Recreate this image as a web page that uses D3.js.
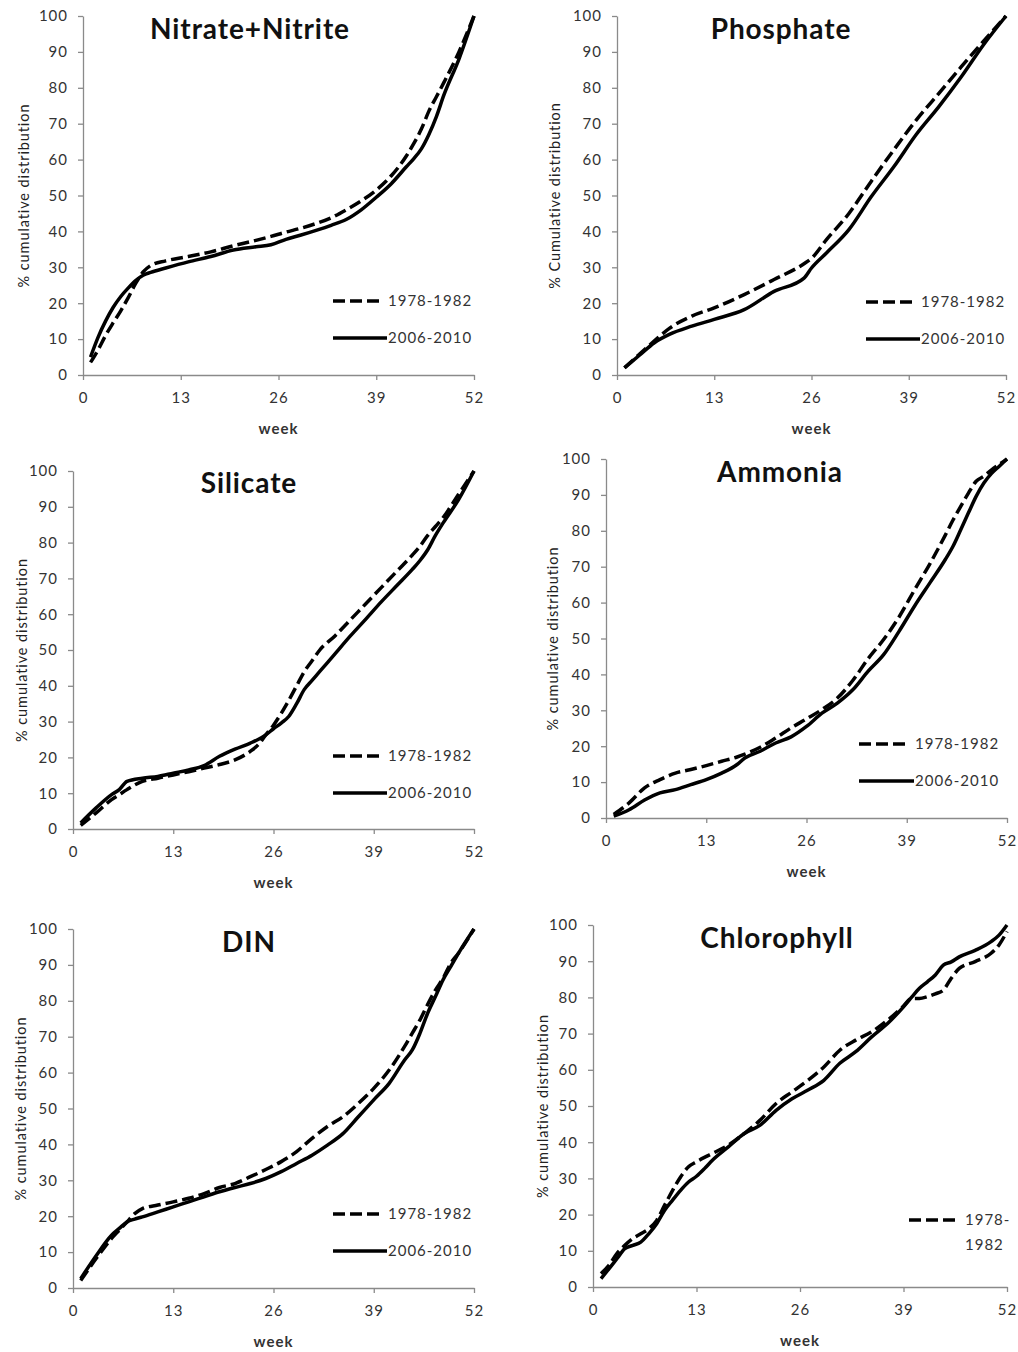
<!DOCTYPE html>
<html>
<head>
<meta charset="utf-8">
<title>cumulative distribution</title>
<script src="https://cdn.jsdelivr.net/npm/d3@7"></script>
<style>
body { margin: 0; background: #fff; }
svg { display: block; }
.axis path, .axis line { stroke: #8a8a8a; stroke-width: 1.3; }
.axis text { font-family: Lato, "Open Sans", sans-serif; font-size: 15px; fill: #333; letter-spacing: 1px; }
.title { font-family: Lato, "Open Sans", sans-serif; font-weight: bold; font-size: 28px; fill: #111; letter-spacing: 0.9px; }
.ylab { font-family: Lato, "Open Sans", sans-serif; font-size: 14.5px; fill: #222; letter-spacing: 0.9px; }
.xlab { font-family: Lato, "Open Sans", sans-serif; font-weight: bold; font-size: 15px; fill: #333; letter-spacing: 1px; }
.leg { font-family: Lato, "Open Sans", sans-serif; font-size: 15px; fill: #333; letter-spacing: 1px; }
.line { fill: none; stroke: #000; stroke-width: 3.5; stroke-linejoin: round; }
.dash { stroke-dasharray: 12, 5; }
</style>
</head>
<body>
<svg width="1018" height="1352"></svg>
<script>

// x ticks / y ticks
var weekTicks = [0, 13, 26, 39, 52];
var pctTicks = [0, 10, 20, 30, 40, 50, 60, 70, 80, 90, 100];
var seriesNames = ["1978-1982", "2006-2010"];

// Nitrate+Nitrite
var nitWeeks = [1, 2, 3, 4, 5, 6, 7, 8, 9, 11, 14, 17, 20, 23, 25, 27, 29, 31, 33, 35, 37, 39, 41, 43, 44, 45, 46, 47, 48, 50, 52];
var nitOld = [3.5, 7, 11, 14.5, 17.8, 21.5, 25.5, 28.7, 30.5, 31.8, 33, 34.3, 36, 37.5, 38.6, 39.8, 40.9, 42.2, 43.8, 46, 48.5, 51.5, 55.5, 61, 64.5, 68.5, 73.5, 77.5, 81.5, 90, 100];
var nitNew = [5, 10.5, 15, 18.8, 21.8, 24.2, 26.3, 27.8, 28.6, 29.8, 31.5, 33, 34.8, 35.7, 36.3, 37.8, 39, 40.3, 41.7, 43.3, 46, 49.5, 53.3, 58, 60.3, 63, 67, 72, 78, 88, 100];

// Phosphate
var phoWeeks = [1, 3, 5, 7, 10, 13, 17, 21, 25, 26, 28, 31, 34, 37, 40, 43, 46, 49, 52];
var phoOld = [2, 5.8, 9.5, 13, 16.4, 18.7, 22.4, 26.6, 31, 32.5, 37.7, 45, 54, 62.7, 71, 78.4, 85.8, 93, 100];
var phoNew = [2, 5.5, 9, 11.3, 13.6, 15.5, 18.2, 23.3, 27, 29.8, 34, 40.5, 49.7, 58, 67, 74.7, 83, 92, 100];

// Silicate
var silWeeks = [1, 3, 5, 6, 7, 9, 11, 13, 15, 17, 19, 21, 23, 24, 25, 26, 27, 28, 29, 30, 31, 32, 34, 36, 38, 40, 42, 44, 45, 46, 47, 48, 50, 52];
var silOld = [1, 4.5, 8.2, 9.6, 11, 13.3, 14.2, 15.1, 16, 17, 18, 19.3, 21.7, 23.5, 26.3, 29, 32.3, 36, 40, 44, 47, 50, 54, 58.5, 63, 67.5, 72, 76.5, 79, 82, 84.5, 87, 93.5, 100];
var silNew = [1.7, 5.9, 9.6, 11, 13.3, 14.2, 14.7, 15.6, 16.5, 17.7, 20.3, 22.3, 24, 25, 26.3, 28, 29.6, 31.5, 35, 39, 41.5, 44, 49, 54, 58.7, 63.5, 68, 72.5, 75, 78, 82, 85.5, 92, 100];

// Ammonia
var ammWeeks = [1, 3, 5, 7, 9, 11, 13, 15, 17, 18, 20, 22, 24, 26, 28, 30, 32, 34, 36, 38, 40, 42, 44, 45, 46, 47, 48, 49, 50, 51, 52];
var ammOld = [1, 4.2, 8.4, 10.7, 12.5, 13.5, 14.6, 15.8, 17, 17.8, 19.7, 22.3, 25.1, 27.6, 30.2, 33.4, 38.3, 44.4, 49.7, 56, 63.5, 70.8, 78.8, 83, 86.8, 90.5, 93.8, 95.2, 97, 98.5, 100];
var ammNew = [0.5, 2.3, 5, 7, 7.9, 9.3, 10.7, 12.5, 14.9, 16.7, 18.6, 20.9, 22.6, 25.5, 29.2, 32, 35.7, 40.9, 45.5, 52, 59, 65.5, 72, 75.7, 80.3, 85, 89.6, 93.3, 96, 98, 100];

// DIN
var dinWeeks = [1, 3, 5, 6, 7, 8, 9, 11, 13, 15, 17, 19, 21, 23, 25, 27, 29, 31, 33, 35, 37, 39, 41, 43, 44, 45, 46, 47, 48, 49, 50, 52];
var dinOld = [2.1, 8.2, 13.8, 16.1, 18.4, 20.7, 22.1, 23.1, 24, 25, 26.3, 28, 29.1, 31, 33, 35.2, 38, 41.7, 45, 47.7, 51.4, 55.6, 60.7, 67.3, 71, 74.7, 79, 83, 86.3, 90.5, 93.3, 100];
var dinNew = [2.6, 9, 14.7, 16.6, 18.4, 19.2, 19.8, 21.2, 22.6, 24, 25.4, 26.8, 28, 29.1, 30.5, 32.4, 34.7, 37, 39.8, 43, 47.7, 52.4, 57, 63.5, 66.3, 71, 76.6, 81.2, 85.9, 89.6, 93.3, 100];

// Chlorophyll
var chlWeeks = [1, 2, 3, 4, 5, 6, 7, 8, 9, 10, 11, 12, 13, 14, 15, 17, 19, 21, 23, 25, 27, 29, 31, 33, 35, 37, 39, 40, 41, 42, 43, 44, 45, 46, 48, 50, 51, 52];
var chlOld = [3.7, 6, 9.2, 11.5, 13.4, 14.7, 16.1, 18.4, 22.6, 26.7, 30.4, 33.2, 34.6, 35.8, 36.9, 39.2, 42.4, 46.1, 50.7, 53.9, 57.1, 60.8, 65.4, 68.2, 70.5, 73.7, 77.6, 79.7, 79.7, 80.2, 81, 82, 85.3, 88, 89.9, 92.2, 94.5, 98.2];
var chlNew = [2.3, 5, 7.8, 10.6, 11.5, 12.4, 14.7, 17.5, 21.2, 24, 26.7, 29, 30.6, 32.7, 35, 38.7, 42.4, 44.7, 48.8, 52, 54.4, 57.1, 61.8, 65, 69.1, 72.8, 77.4, 80, 82.5, 84.3, 86.2, 88.9, 89.8, 91.2, 93, 95.4, 97.2, 100];

// panel layout (pixel boxes of each plot area)
var panels = [
  {title: "Nitrate+Nitrite", ylab: "% cumulative distribution", weeks: nitWeeks, old: nitOld, neu: nitNew,
   x0: 83, x1: 474, y0: 375, y1: 16, tx: 250, ty: 39, yl: 59, legX: 333, legTxt: 388, legY: 301, legs: 2},
  {title: "Phosphate", ylab: "% Cumulative distribution", weeks: phoWeeks, old: phoOld, neu: phoNew,
   x0: 617, x1: 1006, y0: 375, y1: 16, tx: 781, ty: 39, yl: 62, legX: 866, legTxt: 921, legY: 302, legs: 2},
  {title: "Silicate", ylab: "% cumulative distribution", weeks: silWeeks, old: silOld, neu: silNew,
   x0: 73, x1: 474, y0: 829, y1: 471, tx: 249, ty: 493, yl: 51, legX: 333, legTxt: 388, legY: 756, legs: 2},
  {title: "Ammonia", ylab: "% cumulative distribution", weeks: ammWeeks, old: ammOld, neu: ammNew,
   x0: 606, x1: 1007, y0: 818, y1: 459, tx: 780, ty: 482, yl: 53, legX: 859, legTxt: 915, legY: 744, legs: 2},
  {title: "DIN", ylab: "% cumulative distribution", weeks: dinWeeks, old: dinOld, neu: dinNew,
   x0: 73, x1: 474, y0: 1288, y1: 929, tx: 249, ty: 952, yl: 52, legX: 333, legTxt: 388, legY: 1214, legs: 2},
  {title: "Chlorophyll", ylab: "% cumulative distribution", weeks: chlWeeks, old: chlOld, neu: chlNew,
   x0: 593, x1: 1007, y0: 1287, y1: 925, tx: 777, ty: 948, yl: 50, legX: 909, legTxt: 965, legY: 1220, legs: 1}
];

var svg = d3.select("svg");

panels.forEach(function(p) {
  var x = d3.scaleLinear().domain([0, 52]).range([p.x0, p.x1]);
  var y = d3.scaleLinear().domain([0, 100]).range([p.y0, p.y1]);
  var g = svg.append("g");

  g.append("g")
      .attr("class", "axis")
      .attr("transform", "translate(0," + p.y0 + ")")
      .call(d3.axisBottom(x).tickValues(weekTicks).tickSize(5).tickSizeOuter(0).tickPadding(12));

  g.append("g")
      .attr("class", "axis")
      .attr("transform", "translate(" + p.x0 + ",0)")
      .call(d3.axisLeft(y).tickValues(pctTicks).tickSize(5).tickSizeOuter(0).tickPadding(10));

  g.append("text")
      .attr("class", "title")
      .attr("x", p.tx)
      .attr("y", p.ty)
      .attr("text-anchor", "middle")
      .text(p.title);

  g.append("text")
      .attr("class", "ylab")
      .attr("transform", "translate(" + (p.x0 - p.yl) + "," + ((p.y0 + p.y1) / 2) + ") rotate(-90)")
      .attr("text-anchor", "middle")
      .attr("dy", "0.35em")
      .text(p.ylab);

  g.append("text")
      .attr("class", "xlab")
      .attr("x", (p.x0 + p.x1) / 2)
      .attr("y", p.y0 + 59)
      .attr("text-anchor", "middle")
      .text("week");

  var line = d3.line()
      .x(function(d) { return x(d.w); })
      .y(function(d) { return y(d.v); })
      .curve(d3.curveMonotoneX);

  var oldData = p.weeks.map(function(w, i) { return {w: w, v: p.old[i]}; });
  var newData = p.weeks.map(function(w, i) { return {w: w, v: p.neu[i]}; });

  g.append("path").datum(newData).attr("class", "line").attr("d", line);
  g.append("path").datum(oldData).attr("class", "line dash").attr("d", line);

  // legend
  g.append("line")
      .attr("class", "line dash")
      .attr("x1", p.legX).attr("x2", p.legX + 47)
      .attr("y1", p.legY).attr("y2", p.legY);
  if (p.legs == 2) {
    g.append("text").attr("class", "leg")
        .attr("x", p.legTxt).attr("y", p.legY).attr("dy", "0.35em")
        .text(seriesNames[0]);
    g.append("line")
        .attr("class", "line")
        .attr("x1", p.legX).attr("x2", p.legTxt - 1)
        .attr("y1", p.legY + 37).attr("y2", p.legY + 37);
    g.append("text").attr("class", "leg")
        .attr("x", p.legTxt).attr("y", p.legY + 37).attr("dy", "0.35em")
        .text(seriesNames[1]);
  } else {
    // the label wraps onto two lines in this panel
    var parts = seriesNames[0].split("-");
    g.append("text").attr("class", "leg")
        .attr("x", p.legTxt).attr("y", p.legY).attr("dy", "0.35em")
        .text(parts[0] + "-");
    g.append("text").attr("class", "leg")
        .attr("x", p.legTxt).attr("y", p.legY + 25).attr("dy", "0.35em")
        .text(parts[1]);
  }
});

</script>
</body>
</html>
